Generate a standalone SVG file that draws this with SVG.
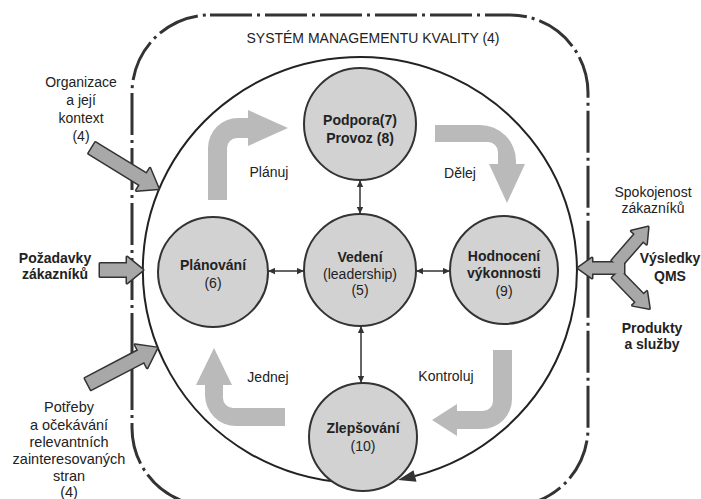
<svg xmlns="http://www.w3.org/2000/svg" xmlns:xlink="http://www.w3.org/1999/xlink" width="701" height="499" viewBox="0 0 701 499">
<style>
text{font-family:"Liberation Sans",Arial,sans-serif;font-size:14px;fill:#222;text-anchor:middle}
.b{font-weight:bold}
.l{font-size:14.5px}
.node{fill:#d2d2d2;stroke:#333;stroke-width:2}
.bent{fill:#bababa;stroke:none}
.conn{stroke:#333;stroke-width:1.5;fill:none;marker-start:url(#ah);marker-end:url(#ah)}
.extout{fill:#333;stroke:#333;stroke-width:3;stroke-linejoin:round}
.extin{fill:#a8a8a8;stroke:none}
</style>
<defs>
<marker id="ah" viewBox="0 0 10 10" refX="10" refY="5" markerWidth="8" markerHeight="7" markerUnits="userSpaceOnUse" orient="auto-start-reverse">
<path d="M0,0.5 L10,5 L0,9.5 Z" fill="#333"/>
</marker>
<polygon id="a-org" transform="translate(92,148) rotate(31.5)" points="0,-6.5 60,-6.5 60,-13 78,0 60,13 60,6.5 0,6.5"/>
<polygon id="a-poz" transform="translate(100,270)" points="0,-6.5 27,-6.5 27,-13 43,0 27,13 27,6.5 0,6.5"/>
<polygon id="a-pot" transform="translate(88,384) rotate(-27.6)" points="0,-6.5 60,-6.5 60,-13 78,0 60,13 60,6.5 0,6.5"/>
<polygon id="a-res" transform="translate(624,268) rotate(180)" points="0,-5.5 32,-5.5 32,-10 46,0 32,10 32,5.5 0,5.5"/>
<polygon id="a-spo" transform="translate(616,264) rotate(-49)" points="0,-5.5 35,-5.5 35,-10 49,0 35,10 35,5.5 0,5.5"/>
<polygon id="a-pro" transform="translate(616,274) rotate(45.9)" points="0,-5.5 34,-5.5 34,-10 48,0 34,10 34,5.5 0,5.5"/>
</defs>

<g id="system-boundary">
<rect x="132" y="15" width="456" height="491" rx="78" fill="none" stroke="#333" stroke-width="3" stroke-dasharray="42 5 3 5"/>
<text x="373" y="43">SYSTÉM MANAGEMENTU KVALITY (4)</text>
</g>

<g id="cycle">
<path d="M345,482.5 A217,213 0 1 1 415,476" fill="none" stroke="#222" stroke-width="2"/>
<polygon points="398,480 413.5,470.2 416.5,481.8" fill="#333"/>
</g>

<g id="bent-arrows">
<path class="bent" d="M208,200 L208,148 A30,30 0 0 1 238,118 L248,118 L248,110 L288,128 L248,146 L248,138 L237,138 A10,10 0 0 0 227,148 L227,200 Z"/>
<path class="bent" d="M435,125 L480,125 A36,36 0 0 1 516,161 L516,164 L525,164 L507,203 L489,164 L498,164 L498,152 A10,10 0 0 0 488,142 L435,142 Z"/>
<path class="bent" d="M493,350 L512,350 L512,399 A30,30 0 0 1 482,429 L457,429 L457,436 L432,420 L457,404 L457,411 L483,411 A10,10 0 0 0 493,401 Z"/>
<path class="bent" d="M285,408 L285,426 L236,426 A31,31 0 0 1 205,395 L205,385 L196,385 L214,348 L232,385 L223,385 L223,398 A10,10 0 0 0 233,408 Z"/>
<text x="269" y="177">Plánuj</text>
<text x="460" y="178">Dělej</text>
<text x="446" y="381">Kontroluj</text>
<text x="268" y="382">Jednej</text>
</g>

<g id="connectors">
<line class="conn" x1="360" y1="180" x2="360" y2="214"/>
<line class="conn" x1="268" y1="271" x2="304" y2="271"/>
<line class="conn" x1="416" y1="271" x2="450" y2="271"/>
<line class="conn" x1="361" y1="326" x2="361" y2="383"/>
</g>

<g id="podpora">
<circle class="node" cx="360" cy="124" r="56"/>
<text class="b" x="360" y="125">Podpora(7)</text>
<text class="b" x="360" y="143">Provoz (8)</text>
</g>
<g id="vedeni">
<circle class="node" cx="360" cy="270" r="56"/>
<text class="b" x="360" y="262">Vedení</text>
<text x="360" y="278.5">(leadership)</text>
<text x="360" y="295">(5)</text>
</g>
<g id="planovani">
<circle class="node" cx="213" cy="272" r="55"/>
<text class="b" x="213" y="270">Plánování</text>
<text x="213" y="288">(6)</text>
</g>
<g id="hodnoceni">
<circle class="node" cx="504" cy="270" r="54"/>
<text class="b" x="504" y="261">Hodnocení</text>
<text class="b" x="504" y="278">výkonnosti</text>
<text x="504" y="296">(9)</text>
</g>
<g id="zlepsovani">
<circle class="node" cx="363" cy="437" r="54"/>
<text class="b" x="363" y="433">Zlepšování</text>
<text x="363" y="451">(10)</text>
</g>

<g id="inputs">
<use xlink:href="#a-org" class="extout"/>
<use xlink:href="#a-poz" class="extout"/>
<use xlink:href="#a-pot" class="extout"/>
<use xlink:href="#a-org" class="extin"/>
<use xlink:href="#a-poz" class="extin"/>
<use xlink:href="#a-pot" class="extin"/>
<text x="81" y="87">Organizace</text>
<text x="81" y="105">a její</text>
<text x="81" y="123">kontext</text>
<text x="81" y="141">(4)</text>
<text class="b" x="55" y="263">Požadavky</text>
<text class="b" x="55" y="279">zákazníků</text>
<text class="l" x="69" y="412">Potřeby</text>
<text class="l" x="69" y="430">a očekávání</text>
<text class="l" x="69" y="447">relevantních</text>
<text class="l" x="69" y="464">zainteresovaných</text>
<text class="l" x="69" y="481">stran</text>
<text class="l" x="69" y="497">(4)</text>
</g>

<g id="outputs">
<use xlink:href="#a-res" class="extout"/>
<use xlink:href="#a-spo" class="extout"/>
<use xlink:href="#a-pro" class="extout"/>
<use xlink:href="#a-res" class="extin"/>
<use xlink:href="#a-spo" class="extin"/>
<use xlink:href="#a-pro" class="extin"/>
<text x="653" y="197">Spokojenost</text>
<text x="653" y="213">zákazníků</text>
<text class="b" x="670" y="263">Výsledky</text>
<text class="b" x="670" y="281">QMS</text>
<text class="b" x="652" y="333">Produkty</text>
<text class="b" x="652" y="349">a služby</text>
</g>
</svg>
